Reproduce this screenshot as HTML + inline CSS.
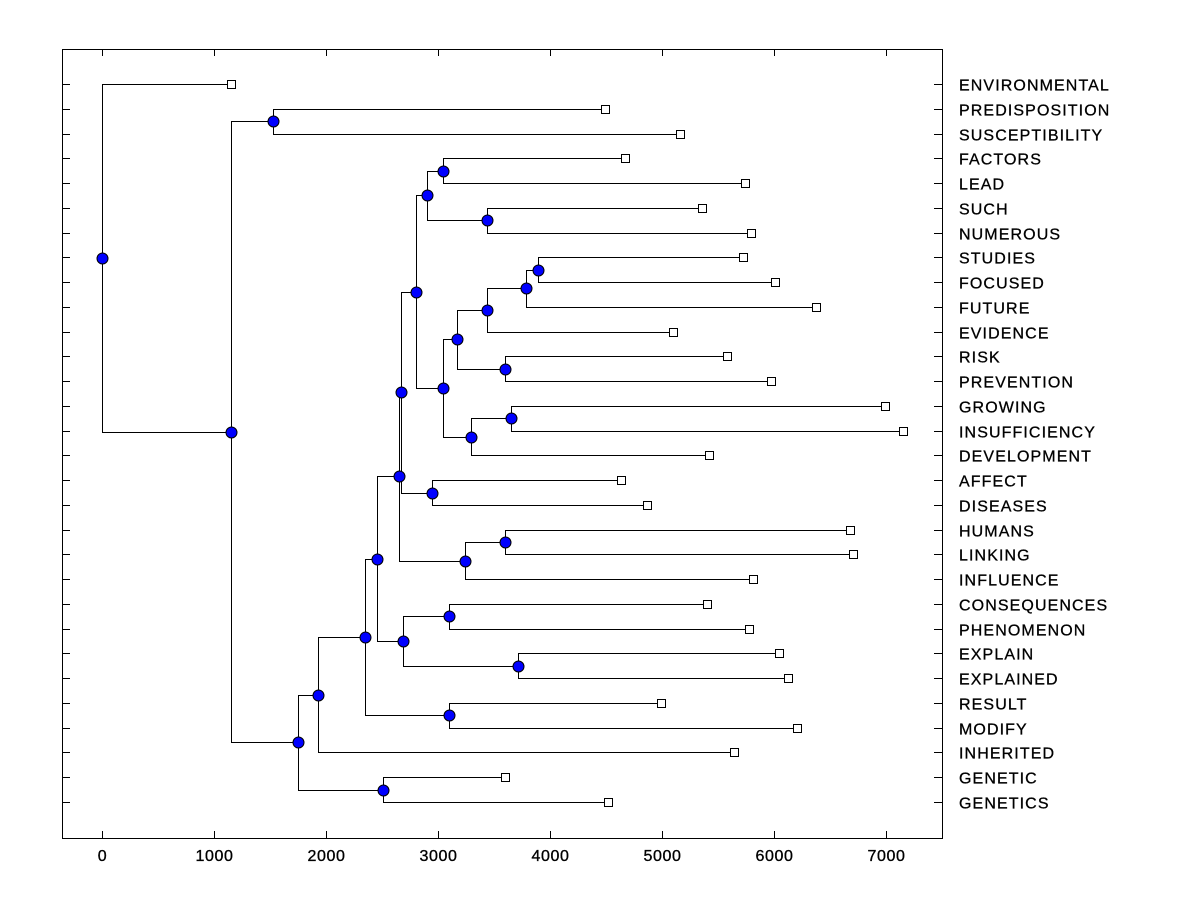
<!DOCTYPE html>
<html><head><meta charset="utf-8"><style>
html,body{margin:0;padding:0;background:#fff;}
svg text{font-family:"Liberation Sans",Arial,sans-serif;}
</style></head><body>
<svg id="chart" width="1200" height="900" xmlns="http://www.w3.org/2000/svg"></svg>
<script>
const leafNames = ["ENVIRONMENTAL","PREDISPOSITION","SUSCEPTIBILITY","FACTORS","LEAD","SUCH","NUMEROUS","STUDIES","FOCUSED","FUTURE","EVIDENCE","RISK","PREVENTION","GROWING","INSUFFICIENCY","DEVELOPMENT","AFFECT","DISEASES","HUMANS","LINKING","INFLUENCE","CONSEQUENCES","PHENOMENON","EXPLAIN","EXPLAINED","RESULT","MODIFY","INHERITED","GENETIC","GENETICS"];
const leafValues = [1152,4491,5161,4670,5741,5357,5795,5723,6009,6375,5098,5580,5973,6991,7152,5420,4634,4866,6679,6705,5813,5402,5777,6045,6125,4991,6205,5643,3598,4518];
const nodeIds = ["root","A","PS","B","GG","C","D","MR","E","G","CP","EE","F","I","HL","H","AD","J","K","FL","SN","L","N","GI","M","RP","O","P","SF"];
const nodeValues = [0,1152,1527,1750,2509,1929,2348,3098,2455,2688,3098,3714,2652,3241,3598,2670,2946,2804,2902,3045,3438,3045,3295,3652,3170,3598,3438,3786,3893];
const nodeChildA = ["ENVIRONMENTAL","PS","PREDISPOSITION","C","GENETIC","D","E","RESULT","F","CP","CONSEQUENCES","EXPLAIN","H","HL","HUMANS","J","AFFECT","K","FL","FACTORS","SUCH","M","GI","GROWING","O","RISK","P","SF","STUDIES"];
const nodeChildB = ["A","B","SUSCEPTIBILITY","GG","GENETICS","INHERITED","MR","MODIFY","G","EE","PHENOMENON","EXPLAINED","I","INFLUENCE","LINKING","AD","DISEASES","L","SN","LEAD","NUMEROUS","N","DEVELOPMENT","INSUFFICIENCY","RP","PREVENTION","EVIDENCE","FUTURE","FOCUSED"];
const xTicks = [0,1000,2000,3000,4000,5000,6000,7000];

const NS="http://www.w3.org/2000/svg";
const svg=document.getElementById('chart');
const L=62,R=942,T=49,B=838;
const xs=v=>102+v*0.112;
const ys=i=>84+i*(802-84)/29;
const px=v=>Math.round(v)+0.5;
function mk(tag,attrs,parent){const e=document.createElementNS(NS,tag);for(const k in attrs)e.setAttribute(k,attrs[k]);(parent||svg).appendChild(e);return e;}

const frame=mk('rect',{x:L+0.5,y:T+0.5,width:R-L,height:B-T,fill:'none',stroke:'#000','stroke-width':1,'shape-rendering':'crispEdges'});



const axisG=mk('g',{'shape-rendering':'crispEdges'});


xTicks.forEach(t=>{
  const x=px(xs(t));
  mk('line',{x1:x,y1:B,x2:x,y2:B-7,stroke:'#000'},axisG);
  mk('line',{x1:x,y1:T,x2:x,y2:T+7,stroke:'#000'},axisG);
  const tx=mk('text',{x:x,y:861,'font-size':16,'text-anchor':'middle',fill:'#000',stroke:'#000','stroke-width':0.35,'letter-spacing':0.6,'shape-rendering':'auto'},axisG);
  tx.textContent=t;
  
  
});

const pos={};
leafNames.forEach((n,i)=>{pos[n]={x:xs(leafValues[i]),y:ys(i)};});
function nodePos(id){
  if(pos[id])return pos[id];
  const k=nodeIds.indexOf(id);
  const a=nodePos(nodeChildA[k]),b=nodePos(nodeChildB[k]);
  pos[id]={x:xs(nodeValues[k]),y:(a.y+b.y)/2};
  return pos[id];
}
nodeIds.forEach(nodePos);

const linkG=mk('g',{fill:'none',stroke:'#000','stroke-width':1,'shape-rendering':'crispEdges'});


nodeIds.forEach((id,k)=>{
  const p=pos[id];
  [nodeChildA[k],nodeChildB[k]].forEach(c=>{
    const q=pos[c];
    mk('path',{d:`M${px(p.x)},${px(p.y)}V${px(q.y)}H${px(q.x)}`},linkG);
  });
});

leafNames.forEach((n,i)=>{
  const y=px(ys(i));
  mk('line',{x1:L,y1:y,x2:L+8,y2:y,stroke:'#000','shape-rendering':'crispEdges'});
  mk('line',{x1:R,y1:y,x2:R-8,y2:y,stroke:'#000','shape-rendering':'crispEdges'});
  const tx=mk('text',{x:959,y:y+6,'font-size':16,fill:'#000',stroke:'#000','stroke-width':0.3,'letter-spacing':1.1});
  tx.textContent=n;
  
  
  const sq=mk('rect',{x:px(pos[n].x)-4,y:y-4,width:8,height:8,fill:'#fff',stroke:'#000','shape-rendering':'crispEdges'});
  
  
});
nodeIds.forEach(id=>{
  const c=mk('circle',{cx:px(pos[id].x),cy:px(pos[id].y),r:5.5,fill:'#0000ff',stroke:'#000','stroke-width':1});
  
  
});
</script>
</body></html>
